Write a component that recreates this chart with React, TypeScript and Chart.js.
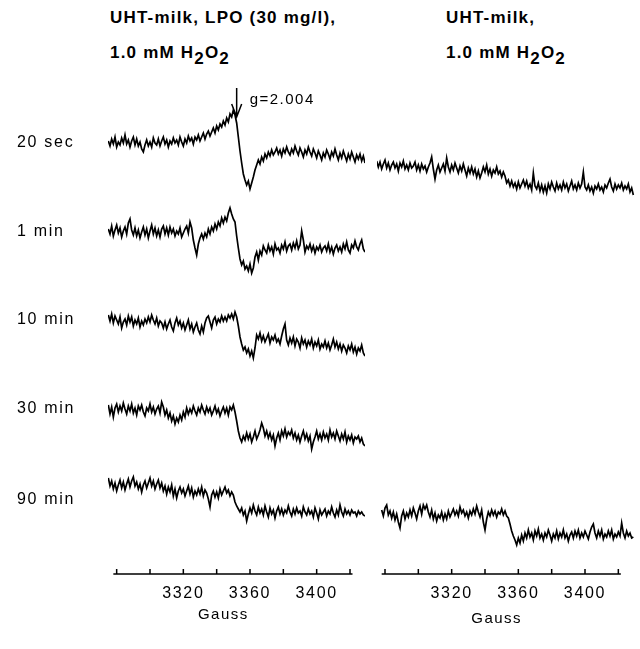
import { useEffect, useRef } from "react";
import { Chart, registerables } from "chart.js";

Chart.register(...registerables);

const FONT = "'Liberation Sans', Arial, Helvetica, sans-serif";
const INK = "#000000";

// Magnetic field (Gauss) sample positions of the recorded spectra
const fieldGauss = [
  3275, 3276, 3277, 3278, 3279, 3280, 3281, 3282, 3283, 3284,
  3285, 3286, 3287, 3288, 3289, 3290, 3291, 3292, 3293, 3294,
  3295, 3296, 3297, 3298, 3299, 3300, 3301, 3302, 3303, 3304,
  3305, 3306, 3307, 3308, 3309, 3310, 3311, 3312, 3313, 3314,
  3315, 3316, 3317, 3318, 3319, 3320, 3321, 3322, 3323, 3324,
  3325, 3326, 3327, 3328, 3329, 3330, 3331, 3332, 3333, 3334,
  3335, 3336, 3337, 3338, 3339, 3340, 3341, 3342, 3343, 3344,
  3345, 3346, 3347, 3348, 3349, 3350, 3351, 3352, 3353, 3354,
  3355, 3356, 3357, 3358, 3359, 3360, 3361, 3362, 3363, 3364,
  3365, 3366, 3367, 3368, 3369, 3370, 3371, 3372, 3373, 3374,
  3375, 3376, 3377, 3378, 3379, 3380, 3381, 3382, 3383, 3384,
  3385, 3386, 3387, 3388, 3389, 3390, 3391, 3392, 3393, 3394,
  3395, 3396, 3397, 3398, 3399, 3400, 3401, 3402, 3403, 3404,
  3405, 3406, 3407, 3408, 3409, 3410, 3411, 3412, 3413, 3414,
  3415, 3416, 3417, 3418, 3419, 3420, 3421, 3422, 3423, 3424,
  3425, 3426, 3427, 3428, 3429,
];

const timeLabels = ["20 sec", "1 min", "10 min", "30 min", "90 min"];
const traceOffsets = [357, 268, 180, 91, 0];
const xTickLabels = [3320, 3360, 3400];
const xTickMarks = [3280, 3300, 3320, 3340, 3360, 3380, 3400, 3420];
const gMarkerField = 3352;

// Left panel: UHT-milk, LPO (30 mg/l), 1.0 mM H2O2 (signal, a.u.)
const lpo20sec = [
  2, -3, 4, -1, 6, -4, 1, -2, 5, 0,
  8, -1, 3, -4, 2, 6, -2, 4, -3, 1,
  -6, -9, -2, 3, -3, 1, -4, 5, 0, -2,
  4, -3, 2, 6, -1, 3, -4, 2, -1, 5,
  0, 3, -2, 6, 1, -3, 4, 0, 7, 2,
  5, -1, 6, 3, 8, 2, 6, 10, 4, 9,
  12, 7, 11, 15, 10, 17, 13, 19, 16, 22,
  18, 25, 21, 29, 26, 33, 28, 20, 6, -8,
  -20, -31, -37, -42, -38, -46, -40, -34, -27, -22,
  -17, -21, -14, -18, -11, -15, -9, -13, -7, -12,
  -9, -5, -11, -7, -13, -6, -10, -4, -9, -12,
  -6, -10, -3, -8, -12, -5, -9, -14, -7, -11,
  -4, -9, -13, -6, -10, -15, -8, -12, -17, -10,
  -14, -7, -11, -16, -9, -13, -6, -12, -17, -10,
  -15, -8, -13, -18, -11, -16, -9, -14, -19, -12,
  -16, -11, -18, -13, -20,
];
const lpo1min = [
  3, -2, 6, -4, 2, 7, -1, 4, -5, 1,
  5, -2, 9, 13, 2, -3, 4, -4, 2, -6,
  0, 5, -3, 3, -6, 1, 7, -2, 4, -4,
  2, -5, 3, 6, -2, 4, -3, 5, -1, 3,
  -4, 1, -2, 4, -5, -1, 3, 6, -1, 10,
  4, -8, -16, -23, -12, -6, -2, -7, -1, -5,
  3, -2, 5, 1, 8, 3, 10, 6, 14, 9,
  15, 11, 19, 24, 18, 13, 10, -4, -16, -27,
  -33, -29, -37, -34, -39, -32, -41, -36, -25, -20,
  -28, -19, -23, -14, -18, -21, -13, -19, -15, -22,
  -12, -18, -16, -21, -13, -17, -10, -19, -14, -12,
  -18, -11, -16, -9, -17, -13, 1, -8, -20, -14,
  -17, -12, -19, -14, -21, -15, -18, -13, -20, -16,
  -14, -19, -12, -20, -15, -22, -16, -13, -19, -15,
  -20, -12, -17, -10, -18, -21, -13, -16, -9, -15,
  -18, -12, -8, -17, -20,
];
const lpo10min = [
  5, -1, 6, -3, 4, 0, -4, 3, -8, -2,
  1, -5, 4, -2, 3, -6, 0, -4, 2, -7,
  -1, -5, 1, -3, 3, -2, 5, 0, -4, 2,
  -6, -1, -3, -8, -2, -9, -4, 0, -7, -11,
  -3, 2, -5, -1, -8, -3, -10, -5, 0, -9,
  -4, -12, -7, -3, -10, -14, -6, -12, -3, 2,
  4, -2, -8, 0, 3, -4, 1, -2, 4, -1,
  3, -1, 5, 2, 6, 1, 8, 3, -6, -17,
  -24, -30, -27, -33, -29, -36, -31, -38, -28, -15,
  -19, -13, -21, -16, -22, -18, -14, -23, -17, -20,
  -15, -22, -19, -24, -16, -9, -4, -20, -25, -18,
  -23, -17, -26, -19, -22, -28, -18, -24, -20, -27,
  -21, -25, -19, -28, -22, -26, -20, -29, -24, -27,
  -21, -28, -23, -30, -25, -19, -27, -22, -29, -24,
  -31, -25, -28, -33, -26, -30, -24, -32, -27, -34,
  -28, -31, -25, -33, -36,
];
const lpo30min = [
  4, -5, 2, -8, 1, 5, -3, 3, -2, 6,
  0, -5, 3, -2, 5, -4, 1, -6, 3, -1,
  4, -3, -7, 1, -2, 5, -3, 2, -5, 0,
  3, -4, 7, 2, -6, -1, -9, -4, -12, -7,
  -15, -9, -13, -6, -11, -3, -8, 1, -5, 0,
  -4, 3, -2, -6, 1, -3, 4, -1, -5, 2,
  -3, 1, -6, -2, 3, -4, 0, -7, -2, 2,
  -4, 1, -6, 2, -1, 4, -3, -12, -22, -29,
  -33, -27, -31, -24, -30, -25, -33, -28, -22, -30,
  -26, -21, -14, -19, -27, -22, -29, -24, -31, -26,
  -37, -29, -24, -31, -22, -27, -20, -28, -23, -26,
  -21, -29, -24, -31, -26, -33, -27, -22, -30, -25,
  -32, -27, -40, -33, -28, -22, -30, -25, -31, -23,
  -29, -25, -31, -21, -28, -24, -30, -22, -27, -32,
  -25, -30, -23, -33, -27, -31, -26, -34, -28, -30,
  -27, -33, -29, -35, -37,
];
const lpo90min = [
  22, 14, 19, 11, 17, 9, 15, 20, 12, 18,
  10, 16, 21, 13, 19, 23, 14, 18, 11, 16,
  8, 15, 19, 12, 17, 22, 14, 19, 11, 16,
  20, 12, 17, 9, 14, 6, 13, 8, 15, 4,
  11, 2, 9, 13, 7, 11, 4, 9, 14, 6,
  12, 3, 9, 5, 11, 6, 13, 4, 10, 7,
  1, -7, 5, 9, 3, 8, 2, 11, 5, 9,
  13, 7, 10, 4, 8, 5, -2, -6, -9, -12,
  -8, -15, -11, -21, -14, -8, -13, -5, -11, -15,
  -7, -13, -9, -15, -6, -12, -17, -8, -14, -10,
  -18, -11, -7, -14, -9, -15, -10, -13, -6, -12,
  -16, -9, -14, -8, -13, -11, -16, -7, -12, -15,
  -9, -14, -11, -17, -8, -13, -19, -10, -15, -12,
  -9, -16, -11, -14, -7, -13, -17, -10, -15, -5,
  -12, -16, -9, -14, -11, -15, -10, -13, -12, -16,
  -11, -14, -12, -15, -16,
];

// Right panel: UHT-milk, 1.0 mM H2O2 (signal, a.u.)
const uht20sec = [
  -18, -24, -19, -26, -21, -17, -25, -20, -27, -22,
  -19, -25, -21, -28, -20, -24, -18, -26, -22, -27,
  -20, -25, -23, -19, -27, -22, -28, -21, -26, -23,
  -29, -24, -20, -14, -26, -36, -27, -22, -29, -25,
  -21, -28, -15, -24, -29, -22, -27, -20, -25, -30,
  -23, -28, -21, -27, -33, -25, -30, -24, -31, -26,
  -34, -28, -35, -30, -24, -29, -22, -31, -26, -33,
  -27, -30, -24, -31, -28, -34, -29, -33, -40, -37,
  -43, -38, -44, -40, -46, -39, -45, -41, -37, -43,
  -38, -45, -41, -47, -30, -43, -46, -40, -48, -42,
  -49, -43, -50, -41, -46, -39, -44, -48, -40, -46,
  -42, -47, -39, -45, -41, -48, -43, -38, -46, -42,
  -47, -40, -45, -41, -29, -44, -47, -42, -48, -44,
  -50, -43, -46, -41, -47, -44, -49, -42, -45, -40,
  -36, -44, -48, -41, -46, -42, -45, -40, -47, -43,
  -46, -41, -49, -45, -52,
];
const uht90min = [
  null, null, null, -10, -16, -8, -5, -15, -11, -18,
  -12, -20, -14, -22, -28, -16, -11, -19, -13, -17,
  -10, -16, -8, -13, -19, -11, -6, -14, -5, -9,
  -5, -12, -17, -10, -19, -13, -21, -15, -18, -12,
  -20, -14, -19, -11, -17, -13, -9, -15, -11, -16,
  -7, -13, -10, -16, -12, -18, -11, -15, -9, -14,
  -6, -12, -17, -10, -22, -30, -19, -12, -16, -10,
  -15, -11, -17, -12, -14, -9, -15, -11, -16, -18,
  -24, -31, -36, -40, -45, -38, -43, -35, -41, -33,
  -38, -30, -37, -33, -40, -31, -36, -29, -38, -34,
  -40, -33, -37, -30, -35, -41, -34, -38, -31, -39,
  -33, -37, -30, -38, -34, -41, -35, -32, -38, -31,
  -36, -30, -38, -33, -37, -31, -35, -39, -32, -27,
  -24, -33, -38, -31, -36, -30, -39, -34, -37, -31,
  -36, -30, -39, -34, -37, -32, -36, -23, -33, -38,
  -31, -36, -33, -38, -37,
];

const Y_MIN = -74;
const Y_MAX = 420;

function traceDataset(values: (number | null)[], offset: number) {
  return {
    data: values.map((v, i) => ({ x: fieldGauss[i], y: v === null ? null : offset + v })),
    borderColor: INK,
    borderWidth: 1.7,
    pointRadius: 0,
    tension: 0,
    fill: false,
    spanGaps: false,
  };
}

function spacingPlugin() {
  return {
    id: "spacing",
    beforeUpdate(chart: any) {
      chart.ctx.letterSpacing = "1.7px";
    },
    beforeDraw(chart: any) {
      chart.ctx.letterSpacing = "1.7px";
    },
  };
}

function axisPlugin(gaussField: number, gaussDy: number) {
  return {
    id: "eprAxis",
    afterDraw(chart: any) {
      const { ctx, chartArea } = chart;
      const x = chart.scales.x;
      const y0 = chartArea.bottom;
      ctx.save();
      ctx.strokeStyle = INK;
      ctx.lineWidth = 1.5;
      ctx.beginPath();
      ctx.moveTo(x.getPixelForValue(3278), y0);
      ctx.lineTo(x.getPixelForValue(3421.5), y0);
      for (const t of xTickMarks) {
        const px = x.getPixelForValue(t);
        ctx.moveTo(px, y0);
        ctx.lineTo(px, y0 - 5);
      }
      ctx.stroke();
      ctx.letterSpacing = "1.5px";
      ctx.font = `15px ${FONT}`;
      ctx.fillStyle = INK;
      ctx.textAlign = "center";
      ctx.textBaseline = "middle";
      ctx.fillText("Gauss", x.getPixelForValue(gaussField), y0 + gaussDy);
      ctx.restore();
    },
  };
}

const markerPlugin = {
  id: "gMarker",
  afterDraw(chart: any) {
    const { ctx } = chart;
    const x = chart.scales.x;
    const y = chart.scales.y;
    const ax = x.getPixelForValue(gMarkerField);
    const top = y.getPixelForValue(traceOffsets[0] + 55);
    const tip = y.getPixelForValue(traceOffsets[0] + 26);
    ctx.save();
    ctx.strokeStyle = INK;
    ctx.lineWidth = 1.5;
    ctx.beginPath();
    ctx.moveTo(ax, top);
    ctx.lineTo(ax, tip);
    ctx.moveTo(ax - 5, tip - 13);
    ctx.lineTo(ax, tip);
    ctx.lineTo(ax + 5, tip - 13);
    ctx.stroke();
    ctx.letterSpacing = "1.5px";
    ctx.font = `15px ${FONT}`;
    ctx.fillStyle = INK;
    ctx.textAlign = "left";
    ctx.textBaseline = "middle";
    ctx.fillText("g=2.004", ax + 13, y.getPixelForValue(traceOffsets[0] + 43));
    ctx.restore();
  },
};

function xScale(min: number, max: number) {
  return {
    type: "linear" as const,
    min,
    max,
    grid: { display: false, drawTicks: false },
    border: { display: false },
    afterBuildTicks: (scale: any) => {
      scale.ticks = xTickLabels.map((v) => ({ value: v }));
    },
    afterFit: (scale: any) => {
      scale.height = 75;
    },
    ticks: {
      autoSkip: false,
      maxRotation: 0,
      padding: 10,
      color: INK,
      font: { family: FONT, size: 16 },
      callback: (v: any) => String(v),
    },
  };
}

function LeftPanel() {
  const ref = useRef<HTMLCanvasElement | null>(null);
  useEffect(() => {
    if (!ref.current) return;
    const series = [lpo20sec, lpo1min, lpo10min, lpo30min, lpo90min];
    const chart = new Chart(ref.current, {
      type: "line",
      data: {
        datasets: series.map((s, i) => traceDataset(s, traceOffsets[i])) as any,
      },
      options: {
        animation: false,
        responsive: false,
        events: [],
        layout: { padding: { top: 80, left: 17, right: 7, bottom: 0 } },
        plugins: { legend: { display: false }, tooltip: { enabled: false } },
        scales: {
          x: xScale(3274.8, 3429),
          y: {
            type: "linear",
            min: Y_MIN,
            max: Y_MAX,
            grid: { display: false, drawTicks: false },
            border: { display: false },
            afterBuildTicks: (scale: any) => {
              scale.ticks = [...traceOffsets].reverse().map((v) => ({ value: v }));
            },
            afterFit: (scale: any) => {
              scale.width = 91;
            },
            ticks: {
              autoSkip: false,
              crossAlign: "far",
              color: INK,
              font: { family: FONT, size: 16 },
              callback: (v: any) => timeLabels[traceOffsets.indexOf(Number(v))] ?? "",
            },
          },
        },
      } as any,
      plugins: [spacingPlugin(), axisPlugin(3344, 41), markerPlugin] as any,
    });
    return () => chart.destroy();
  }, []);
  return (
    <canvas
      ref={ref}
      width={372}
      height={649}
      style={{ position: "absolute", left: 0, top: 0 }}
    />
  );
}

function RightPanel() {
  const ref = useRef<HTMLCanvasElement | null>(null);
  useEffect(() => {
    if (!ref.current) return;
    const chart = new Chart(ref.current, {
      type: "line",
      data: {
        datasets: [
          traceDataset(uht20sec, traceOffsets[0]),
          traceDataset(uht90min, traceOffsets[4]),
        ] as any,
      },
      options: {
        animation: false,
        responsive: false,
        events: [],
        layout: { padding: { top: 80, left: 5, right: 5, bottom: 0 } },
        plugins: { legend: { display: false }, tooltip: { enabled: false } },
        scales: {
          x: xScale(3275.2, 3430),
          y: {
            type: "linear",
            display: false,
            min: Y_MIN,
            max: Y_MAX,
          },
        },
      } as any,
      plugins: [spacingPlugin(), axisPlugin(3347, 45)] as any,
    });
    return () => chart.destroy();
  }, []);
  return (
    <canvas
      ref={ref}
      width={268}
      height={649}
      style={{ position: "absolute", left: 372, top: 0 }}
    />
  );
}

const sub = { position: "relative" as const, top: 6 };

function TitleBlock({ left, first }: { left: number; first: string }) {
  const line = {
    position: "absolute" as const,
    left,
    font: `bold 17px ${FONT}`,
    letterSpacing: "1.2px",
    lineHeight: "20px",
    whiteSpace: "nowrap" as const,
    color: INK,
  };
  return (
    <>
      <div style={{ ...line, top: 8 }}>{first}</div>
      <div style={{ ...line, top: 43 }}>
        1.0 mM H<span style={sub}>2</span>O<span style={sub}>2</span>
      </div>
    </>
  );
}

export default function App() {
  return (
    <div
      style={{
        position: "absolute",
        left: 0,
        top: 0,
        width: 640,
        height: 649,
        background: "#ffffff",
        overflow: "hidden",
      }}
    >
      <TitleBlock left={110} first="UHT-milk, LPO (30 mg/l)," />
      <TitleBlock left={446} first="UHT-milk," />
      <LeftPanel />
      <RightPanel />
    </div>
  );
}
